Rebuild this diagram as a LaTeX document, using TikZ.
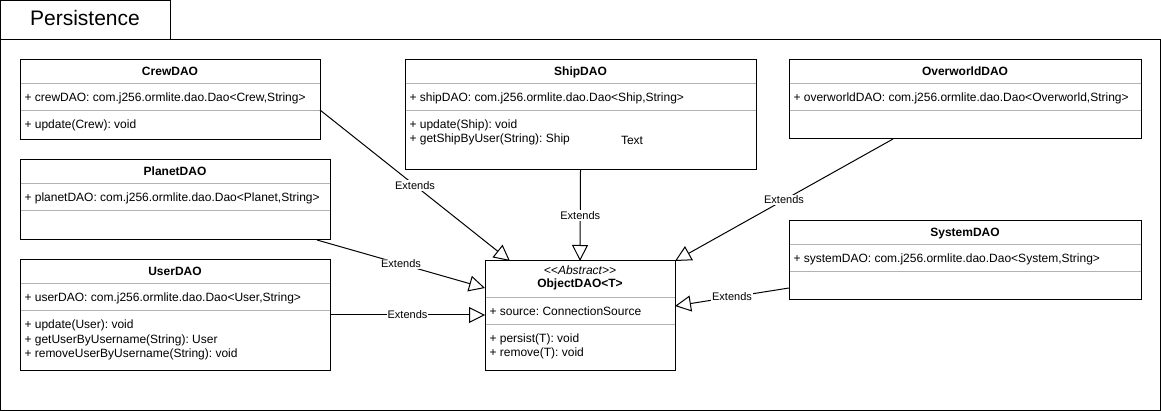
\documentclass[tikz,border=0pt]{standalone}
\usepackage{fontspec}
\setmainfont{Liberation Sans}
\usetikzlibrary{calc}
\usetikzlibrary{arrows.meta}
\frenchspacing

\begin{document}
\begin{tikzpicture}[x=1pt, y=-1pt, line width=1pt,
    font=\fontsize{12}{14}\selectfont,
    >={Triangle[open, length=16pt, width=16pt]},
    classbox/.style={draw, anchor=north west, inner sep=0pt, outer sep=0pt},
    classname/.style={anchor=base, inner sep=0pt, font=\fontsize{12}{14}\selectfont\bfseries},
    member/.style={anchor=base west, inner sep=0pt},
    sepline/.style={draw=gray!60},
    extends/.style={->},
    extlabel/.style={midway, fill=white, inner sep=1pt, font=\fontsize{11}{13}\selectfont}]
  \useasboundingbox (0,0) rectangle (1161,411);
  % package frame
  \node[classbox, minimum width=169.5pt, minimum height=39.5pt] (pkgtab) at (0.5,0.5) {};
  \node[classbox, minimum width=1159.5pt, minimum height=370pt] (pkgbody) at (0.5,40) {};
  \node[anchor=base, inner sep=0pt, font=\fontsize{21}{25}\selectfont] (pkgname) at (85,26) {Persistence};

  % classes
  \node[classbox, minimum width=300pt, minimum height=80pt] (crew) at (20,60) {};
  \node[classbox, minimum width=310pt, minimum height=80pt] (planet) at (20,160) {};
  \node[classbox, minimum width=310pt, minimum height=110pt] (user) at (20,260) {};
  \node[classbox, minimum width=351pt, minimum height=110pt] (ship) at (405,60) {};
  \node[classbox, minimum width=352pt, minimum height=79pt] (overworld) at (789,60) {};
  \node[classbox, minimum width=352pt, minimum height=79pt] (system) at (789,221) {};
  \node[classbox, minimum width=190pt, minimum height=109pt] (obj) at (485,261) {};

  \foreach \cls/\title in {crew/CrewDAO, planet/PlanetDAO, user/UserDAO,
      ship/ShipDAO, overworld/OverworldDAO, system/SystemDAO}{
    \draw[sepline] ([xshift=0.5pt, yshift=-24pt]\cls.north west) -- ([xshift=-0.5pt, yshift=-24pt]\cls.north east);
    \draw[sepline] ([xshift=0.5pt, yshift=-51pt]\cls.north west) -- ([xshift=-0.5pt, yshift=-51pt]\cls.north east);
    \node[classname] (\cls-name) at ([yshift=-16pt]\cls.north) {\title};
  }
  \draw[sepline] ([xshift=0.5pt, yshift=-37pt]obj.north west) -- ([xshift=-0.5pt, yshift=-37pt]obj.north east);
  \draw[sepline] ([xshift=0.5pt, yshift=-64pt]obj.north west) -- ([xshift=-0.5pt, yshift=-64pt]obj.north east);

  % attributes
  \node[member] (crew-attr) at ([xshift=4pt, yshift=-42pt]crew.north west) {+ crewDAO: com.j256.ormlite.dao.Dao<Crew,String>};
  \node[member] (planet-attr) at ([xshift=4pt, yshift=-42pt]planet.north west) {+ planetDAO: com.j256.ormlite.dao.Dao<Planet,String>};
  \node[member] (user-attr) at ([xshift=4pt, yshift=-42pt]user.north west) {+ userDAO: com.j256.ormlite.dao.Dao<User,String>};
  \node[member] (ship-attr) at ([xshift=4pt, yshift=-42pt]ship.north west) {+ shipDAO: com.j256.ormlite.dao.Dao<Ship,String>};
  \node[member] (overworld-attr) at ([xshift=4pt, yshift=-42pt]overworld.north west) {+ overworldDAO: com.j256.ormlite.dao.Dao<Overworld,String>};
  \node[member] (system-attr) at ([xshift=4pt, yshift=-42pt]system.north west) {+ systemDAO: com.j256.ormlite.dao.Dao<System,String>};

  % methods
  \node[member] (crew-op0) at ([xshift=4pt, yshift=-69pt]crew.north west) {+ update(Crew): void};
  \foreach \op [count=\i from 0] in {+ update(Ship): void, + getShipByUser(String): Ship}
    \node[member] (ship-op\i) at ([xshift=4pt, yshift=-69pt-14pt*\i]ship.north west) {\op};
  \foreach \op [count=\i from 0] in {+ update(User): void, + getUserByUsername(String): User,
      + removeUserByUsername(String): void}
    \node[member] (user-op\i) at ([xshift=4pt, yshift=-69pt-14pt*\i]user.north west) {\op};
  \node (ship-text) at (632,140) {Text};

  % abstract base
  \node[anchor=base, inner sep=0pt, font=\fontsize{12}{14}\selectfont\itshape] (obj-stereo) at ([yshift=-14pt]obj.north) {<\kern0pt<Abstract>\kern0pt>};
  \node[classname] (obj-name) at ([yshift=-27pt]obj.north) {ObjectDAO<T>};
  \node[member] (obj-attr) at ([xshift=4pt, yshift=-55pt]obj.north west) {+ source: ConnectionSource};
  \foreach \op [count=\i from 0] in {+ persist(T): void, + remove(T): void}
    \node[member] (obj-op\i) at ([xshift=4pt, yshift=-81pt-14pt*\i]obj.north west) {\op};

  % generalisations
  \draw[extends] ([yshift=-50pt]crew.north east) -- node[extlabel] {Extends} ([xshift=25pt]obj.north west);
  \draw[extends] ([xshift=-13pt]planet.south east) -- node[extlabel] {Extends} ([yshift=-27pt]obj.north west);
  \draw[extends] ([yshift=-55pt]user.north east) -- node[extlabel] {Extends} ([yshift=-54pt]obj.north west);
  \draw[extends] (ship.south) -- node[extlabel] {Extends} (obj.north);
  \draw[extends] ([xshift=104pt]overworld.south west) -- node[extlabel] {Extends} (obj.north east);
  \draw[extends] ([yshift=-67pt]system.north west) -- node[extlabel] {Extends} ([yshift=-45pt]obj.north east);
\end{tikzpicture}
\end{document}
